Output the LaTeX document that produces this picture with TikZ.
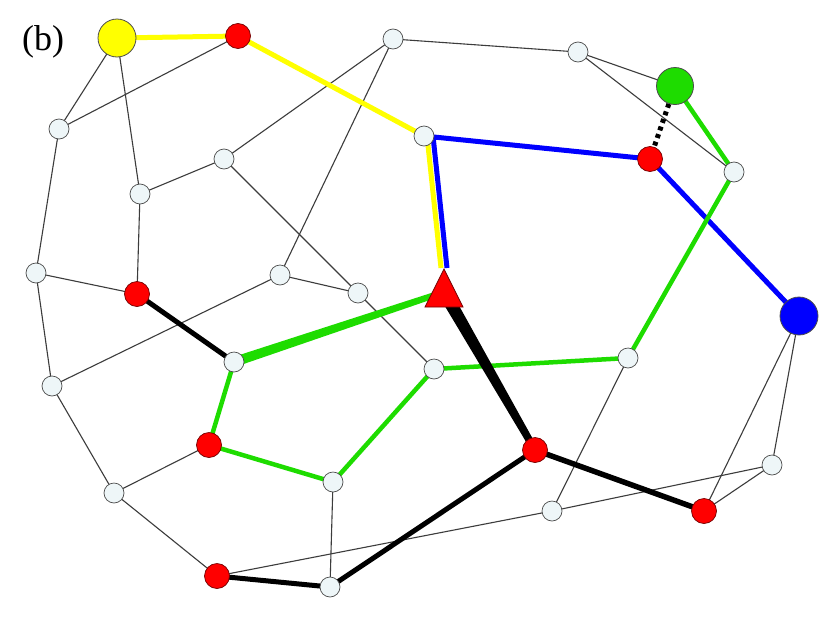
\documentclass[tikz,border=0pt]{standalone}
\usepackage{fontspec}
\setmainfont{Liberation Serif}
\usetikzlibrary{calc,backgrounds}
\definecolor{gline}{RGB}{30,220,0}
\definecolor{nfill}{RGB}{238,246,248}
\definecolor{edgegray}{RGB}{60,60,60}
\definecolor{ylw}{RGB}{255,255,0}
\definecolor{blu}{RGB}{0,0,255}
\begin{document}
\begin{tikzpicture}[x=1pt,y=-1pt,
  sm/.style={circle,draw=black!70,fill=nfill,line width=0.7pt,minimum size=20pt,inner sep=0pt},
  rd/.style={circle,draw=black!55!red,fill=red,line width=0.7pt,minimum size=25pt,inner sep=0pt},
  big/.style={circle,draw=black!70,line width=0.8pt,minimum size=38pt,inner sep=0pt},
  thinedge/.style={draw=edgegray,line width=1.1pt},
  yedge/.style={draw=ylw,line width=5pt},
  bedge/.style={draw=blu,line width=5pt},
  gedge/.style={draw=gline,line width=4.5pt},
  kedge/.style={draw=black,line width=5pt},
  dotblk/.style={draw=black,line width=5pt,dash pattern=on 4pt off 4pt}]
\useasboundingbox (0,0) rectangle (835,616);
% nodes
\node[big,fill=ylw] (Y) at (117,38) {};
\node[rd] (R1) at (238,36) {};
\node[sm] (A) at (393,39) {};
\node[sm] (G) at (578,52) {};
\node[big,fill=gline,minimum size=37pt] (GR) at (675,86) {};
\node[sm] (L1) at (59,129) {};
\node[sm] (F) at (424,136) {};
\node[sm] (C) at (224,159) {};
\node[rd] (R2) at (650,159) {};
\node[sm] (H) at (734,172) {};
\node[sm] (B) at (140,194) {};
\node[sm] (L2) at (36,273) {};
\node[sm] (D) at (280,275) {};
\node[rd] (R3) at (137,294) {};
\node[sm] (E) at (358,293) {};
\coordinate (T) at (444,292);
\coordinate (Tapex) at (444,268);
\node[big,fill=blu] (BL) at (799,316) {};
\node[sm] (N) at (628,358) {};
\node[sm] (I) at (234,362) {};
\node[sm] (M) at (434,369) {};
\node[sm] (L3) at (52,386) {};
\node[rd] (R4) at (209,445) {};
\node[rd] (R6) at (535,450) {};
\node[sm] (O) at (772,465) {};
\node[sm] (J) at (333,482) {};
\node[sm] (L4) at (114,493) {};
\node[sm] (P) at (552,511) {};
\node[rd] (R7) at (704,511) {};
\node[rd] (R5) at (217,576) {};
\node[sm] (K) at (330,587) {};
\node[font=\fontsize{36}{42}\selectfont,inner sep=0pt] (lbl) at (43,42) {(b)};
% edges
\begin{scope}[on background layer]
\fill[white] (0,0) rectangle (835,616);
\foreach \a/\b in {Y/L1,Y/B,R1/L1,L1/L2,L2/R3,B/R3,B/C,C/A,C/E,A/D,D/E,D/L3,L2/L3,L3/L4,L4/R4,L4/R5,J/K,R5/P,P/N,P/O,R7/O,R7/BL,O/BL,A/G,G/GR,G/H,E/M}
  \draw[thinedge] (\a.center) -- (\b.center);
\draw[yedge] (Y.center) -- (R1.center) -- (F.center);
\draw[yedge] ([xshift=3pt]F.center) -- ([xshift=-3pt]Tapex);
\draw[bedge] ([xshift=9pt]F.center) -- ([xshift=3pt]Tapex);
\draw[bedge] (F.center) -- (R2.center) -- (BL.center);
\draw[gedge] (R4.center) -- (I.center);
\draw[gedge] (R4.center) -- (J.center) -- (M.center) -- (N.center) -- (H.center) -- (GR.center);
\fill[gline] ($(I.center)!5pt!90:(T)$) -- ($(T)!3pt!-90:(I.center)$) -- ($(T)!3pt!90:(I.center)$) -- ($(I.center)!5pt!-90:(T)$) -- cycle;
\fill[black] ($(T)!6.5pt!90:(R6.center)$) -- ($(R6.center)!3.5pt!-90:(T)$) -- ($(R6.center)!3.5pt!90:(T)$) -- ($(T)!6.5pt!-90:(R6.center)$) -- cycle;
\draw[kedge] (R3.center) -- (I.center);
\draw[kedge,line width=5.5pt] (R6.center) -- (R7.center);
\draw[kedge] (R6.center) -- (K.center) -- (R5.center);
\draw[dotblk] (GR) -- (R2);
\end{scope}
% triangle
\filldraw[fill=red,draw=black!55!red,line width=0.7pt] (444,269) -- (463,307) -- (425,307) -- cycle;
\end{tikzpicture}
\end{document}
